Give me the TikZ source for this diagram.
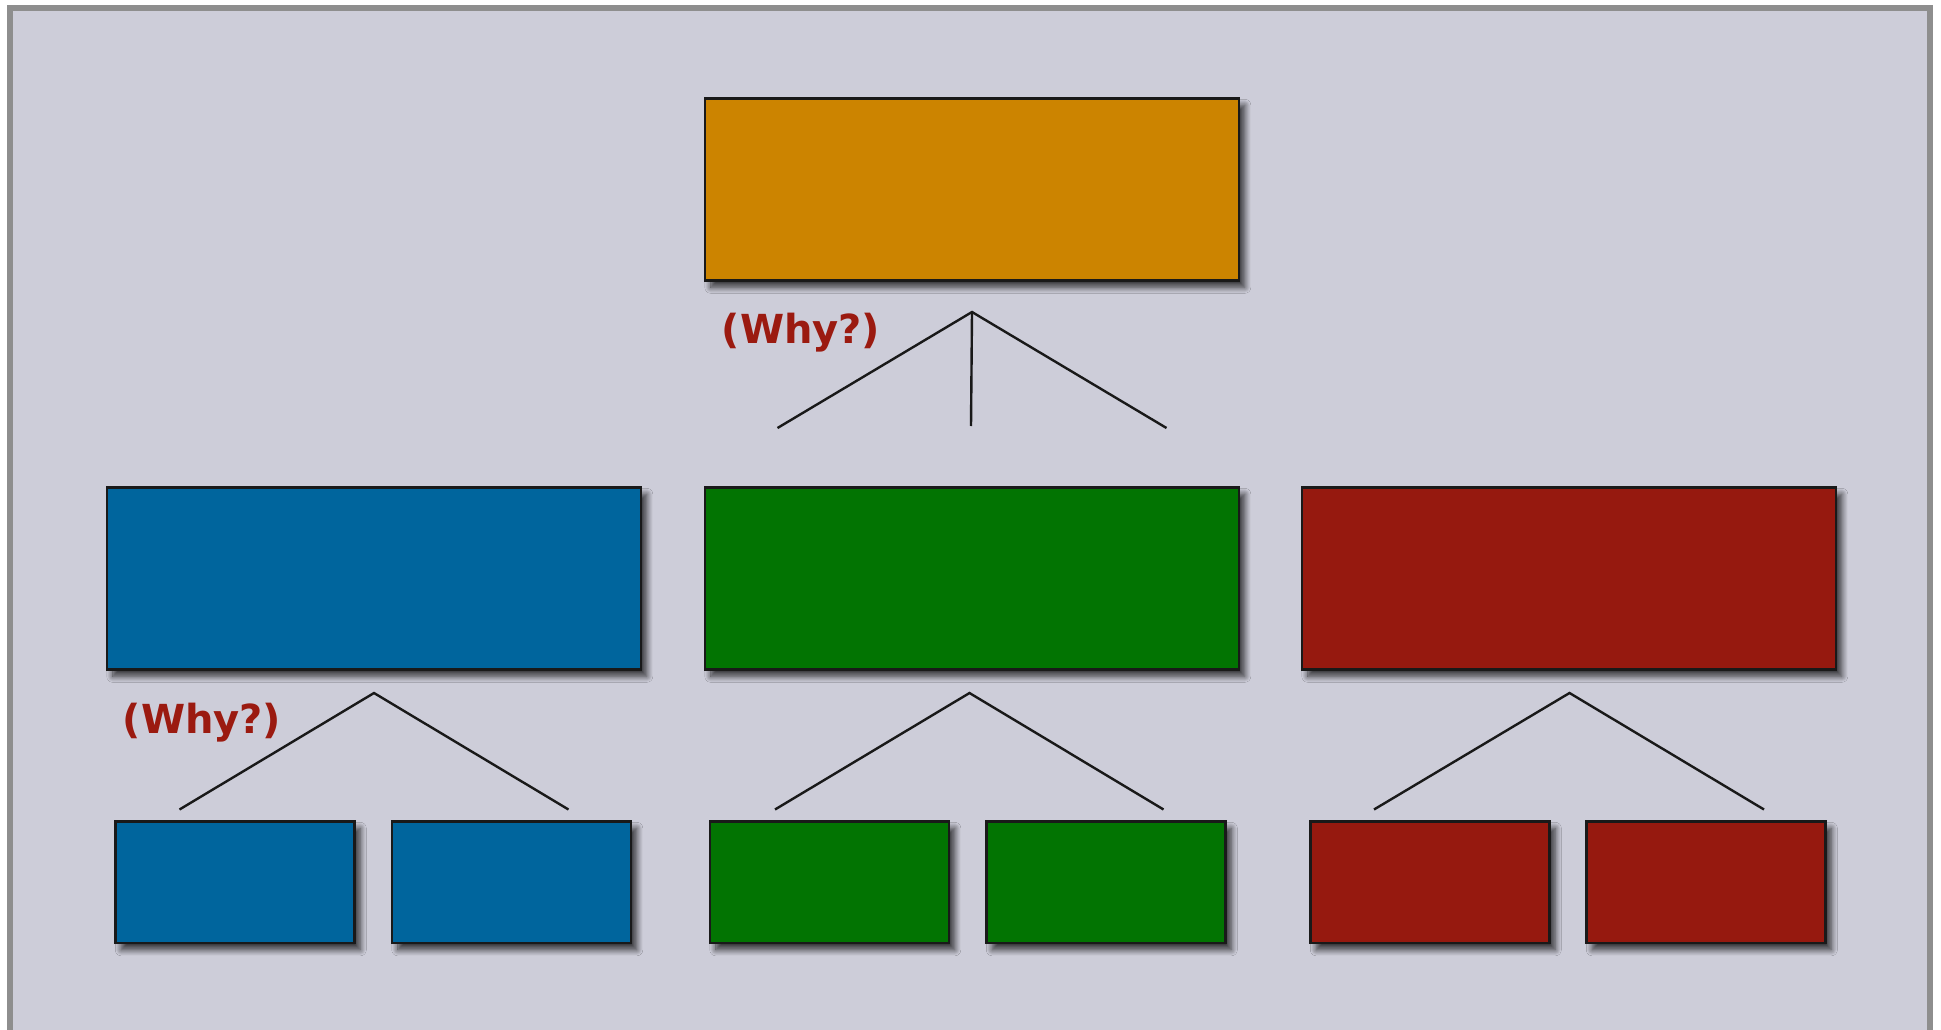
\documentclass[tikz,border=0pt]{standalone}
\usepackage{fontspec}
\newfontfamily\whyfont{DejaVu Sans}
\usetikzlibrary{shadows.blur}
\definecolor{bgpanel}{RGB}{205,205,217}
\definecolor{framegray}{RGB}{142,142,142}
\definecolor{boxorange}{RGB}{204,132,0}
\definecolor{boxblue}{RGB}{0,101,157}
\definecolor{boxgreen}{RGB}{2,116,2}
\definecolor{boxred}{RGB}{150,25,15}
\definecolor{whyred}{RGB}{155,26,16}
\tikzset{
  box/.style={draw=black!90, line width=2.6pt, inner sep=0pt, anchor=north west,
    blur shadow={shadow xshift=6pt, shadow yshift=-7pt, shadow blur radius=6pt, shadow opacity=75, shadow blur steps=12}},
  bigbox/.style={box, minimum width=534pt, minimum height=182pt},
  smallbox/.style={box, minimum width=239pt, minimum height=121.5pt},
  link/.style={draw=black!90, line width=2.4pt},
  why/.style={text=whyred, font=\whyfont\bfseries\fontsize{40}{48}\selectfont, inner sep=0pt}
}
\begin{document}
\begin{tikzpicture}[x=1pt,y=-1pt]
\useasboundingbox (0,0) rectangle (1941,1030);
\fill[white] (0,0) rectangle (1941,1030);
\draw[framegray, fill=bgpanel, line width=6pt] (9.5,8) rectangle (1929.5,1033);

% top
\node[bigbox, fill=boxorange] (top) at (703.5,97) {};
% middle
\node[bigbox, fill=boxblue] (mblue) at (105.5,486) {};
\node[bigbox, fill=boxgreen] (mgreen) at (703.5,486) {};
\node[bigbox, fill=boxred] (mred) at (1300.5,486) {};
% bottom
\node[smallbox, fill=boxblue] (b1) at (114,820) {};
\node[smallbox, fill=boxblue] (b2) at (390.5,820) {};
\node[smallbox, fill=boxgreen] (g1) at (708.5,820) {};
\node[smallbox, fill=boxgreen] (g2) at (985,820) {};
\node[smallbox, fill=boxred] (r1) at (1309,820) {};
\node[smallbox, fill=boxred] (r2) at (1585,820) {};

% connectors
\coordinate (ta) at (972,312);
\coordinate (tl) at (777.5,428);
\coordinate (tm) at (971,426);
\coordinate (tr) at (1166.5,428);
\draw[link] (tl) -- (ta) -- (tr);
\draw[link] (ta) -- (tm);

\coordinate (ba) at (374,693);
\coordinate (bl) at (179.5,809.5);
\coordinate (br) at (568.5,809.5);
\draw[link] (bl) -- (ba) -- (br);

\coordinate (ga) at (969.5,693);
\coordinate (gl) at (775,809.5);
\coordinate (gr) at (1163.5,809.5);
\draw[link] (gl) -- (ga) -- (gr);

\coordinate (ra) at (1569.5,693);
\coordinate (rl) at (1374,809.5);
\coordinate (rr) at (1764,809.5);
\draw[link] (rl) -- (ra) -- (rr);

% labels
\node[why] (why1) at (801,333) {(Why?)};
\node[why] (why2) at (202,723) {(Why?)};
\end{tikzpicture}
\end{document}
